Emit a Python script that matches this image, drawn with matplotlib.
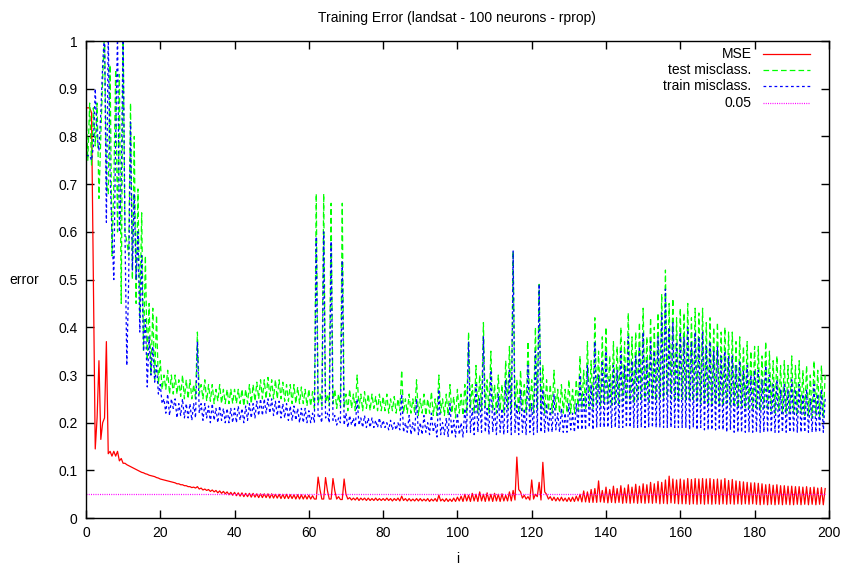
import numpy as np
import matplotlib
matplotlib.use("Agg")
import matplotlib.pyplot as plt
from matplotlib.ticker import FuncFormatter, MultipleLocator

plt.rcParams['font.family'] = ['Liberation Sans', 'DejaVu Sans']

# values: "hi" at i = 0,1,...,199 and "lo" at i = 0.5,1.5,...
mse_hi = [
    0.86, 0.86, 0.50, 0.21, 0.165, 0.21, 0.135, 0.13, 0.13, 0.12,
    0.115, 0.112, 0.108, 0.104, 0.10, 0.096, 0.093, 0.090, 0.088, 0.085,
    0.082, 0.080, 0.078, 0.076, 0.074, 0.072, 0.070, 0.068, 0.066, 0.065,
    0.066, 0.063, 0.061, 0.060, 0.059, 0.058, 0.057, 0.056, 0.055, 0.054,
    0.054, 0.053, 0.053, 0.052, 0.052, 0.052, 0.051, 0.051, 0.051, 0.051,
    0.051, 0.050, 0.050, 0.050, 0.050, 0.049, 0.049, 0.049, 0.049, 0.048,
    0.048, 0.047, 0.040, 0.060, 0.040, 0.058, 0.040, 0.057, 0.045, 0.039,
    0.050, 0.043, 0.042, 0.043, 0.042, 0.042, 0.042, 0.041, 0.042, 0.041,
    0.041, 0.042, 0.041, 0.041, 0.042, 0.046, 0.041, 0.041, 0.040, 0.041,
    0.041, 0.040, 0.041, 0.040, 0.041, 0.048, 0.040, 0.041, 0.040, 0.042,
    0.044, 0.046, 0.050, 0.048, 0.052, 0.050, 0.055, 0.050, 0.053, 0.050,
    0.052, 0.050, 0.051, 0.048, 0.055, 0.058, 0.128, 0.055, 0.048, 0.045,
    0.080, 0.050, 0.075, 0.117, 0.050, 0.045, 0.044, 0.043, 0.044, 0.042,
    0.043, 0.044, 0.046, 0.050, 0.057, 0.055, 0.060, 0.062, 0.078, 0.058,
    0.065, 0.060, 0.067, 0.062, 0.068, 0.063, 0.070, 0.065, 0.071, 0.067,
    0.072, 0.070, 0.075, 0.072, 0.077, 0.075, 0.080, 0.088, 0.082, 0.080,
    0.082, 0.080, 0.083, 0.081, 0.083, 0.082, 0.083, 0.082, 0.083, 0.081,
    0.082, 0.080, 0.083, 0.079, 0.081, 0.078, 0.077, 0.076, 0.075, 0.074,
    0.074, 0.073, 0.072, 0.070, 0.071, 0.069, 0.070, 0.068, 0.068, 0.067,
    0.067, 0.066, 0.066, 0.065, 0.066, 0.064, 0.065, 0.063, 0.064, 0.062,
]
mse_lo = [
    0.86, 0.85, 0.145, 0.33, 0.20, 0.37, 0.14, 0.14, 0.14, 0.125,
    0.115, 0.11, 0.106, 0.102, 0.098, 0.095, 0.092, 0.089, 0.087, 0.084,
    0.081, 0.079, 0.077, 0.075, 0.072, 0.070, 0.068, 0.066, 0.064, 0.063,
    0.061, 0.059, 0.058, 0.056, 0.055, 0.053, 0.052, 0.051, 0.049, 0.048,
    0.047, 0.046, 0.045, 0.045, 0.044, 0.044, 0.043, 0.043, 0.043, 0.042,
    0.042, 0.042, 0.041, 0.041, 0.041, 0.041, 0.040, 0.040, 0.040, 0.040,
    0.040, 0.040, 0.086, 0.040, 0.085, 0.040, 0.083, 0.040, 0.039, 0.082,
    0.040, 0.038, 0.038, 0.037, 0.038, 0.037, 0.037, 0.037, 0.037, 0.037,
    0.037, 0.037, 0.036, 0.037, 0.036, 0.037, 0.036, 0.036, 0.036, 0.036,
    0.036, 0.036, 0.035, 0.036, 0.035, 0.036, 0.035, 0.035, 0.035, 0.035,
    0.036, 0.035, 0.036, 0.035, 0.036, 0.035, 0.036, 0.035, 0.036, 0.035,
    0.036, 0.035, 0.036, 0.036, 0.036, 0.038, 0.060, 0.042, 0.040, 0.038,
    0.040, 0.045, 0.038, 0.055, 0.040, 0.037, 0.036, 0.036, 0.036, 0.035,
    0.035, 0.035, 0.036, 0.034, 0.034, 0.033, 0.033, 0.033, 0.034, 0.033,
    0.032, 0.033, 0.032, 0.033, 0.031, 0.032, 0.031, 0.032, 0.031, 0.032,
    0.031, 0.032, 0.031, 0.032, 0.030, 0.031, 0.030, 0.032, 0.031, 0.030,
    0.030, 0.030, 0.029, 0.030, 0.029, 0.030, 0.029, 0.030, 0.029, 0.030,
    0.029, 0.030, 0.029, 0.030, 0.029, 0.030, 0.029, 0.030, 0.029, 0.030,
    0.029, 0.028, 0.029, 0.028, 0.029, 0.028, 0.029, 0.028, 0.029, 0.028,
    0.028, 0.029, 0.028, 0.029, 0.028, 0.029, 0.028, 0.029, 0.028, 0.029,
]

test_hi = [
    0.86, 0.87, 0.86, 0.87, 0.80, 1.02, 0.68, 0.55, 0.94, 0.93,
    1.02, 0.58, 0.87, 0.80, 0.69, 0.64, 0.55, 0.45, 0.44, 0.425,
    0.33, 0.30, 0.31, 0.30, 0.30, 0.29, 0.30, 0.29, 0.29, 0.28,
    0.39, 0.28, 0.29, 0.28, 0.28, 0.27, 0.28, 0.27, 0.27, 0.27,
    0.27, 0.27, 0.27, 0.27, 0.28, 0.28, 0.285, 0.29, 0.29, 0.295,
    0.29, 0.29, 0.29, 0.285, 0.28, 0.28, 0.28, 0.275, 0.275, 0.27,
    0.27, 0.265, 0.68, 0.26, 0.68, 0.26, 0.66, 0.27, 0.26, 0.66,
    0.26, 0.27, 0.26, 0.30, 0.26, 0.265, 0.26, 0.26, 0.255, 0.26,
    0.255, 0.26, 0.25, 0.255, 0.25, 0.31, 0.25, 0.26, 0.25, 0.29,
    0.25, 0.26, 0.25, 0.265, 0.25, 0.30, 0.25, 0.26, 0.28, 0.255,
    0.27, 0.26, 0.28, 0.39, 0.28, 0.32, 0.30, 0.41, 0.29, 0.35,
    0.28, 0.30, 0.28, 0.33, 0.36, 0.56, 0.29, 0.31, 0.28, 0.37,
    0.29, 0.40, 0.49, 0.32, 0.29, 0.28, 0.31, 0.27, 0.28, 0.27,
    0.29, 0.27, 0.29, 0.34, 0.31, 0.37, 0.33, 0.42, 0.35, 0.38,
    0.40, 0.34, 0.37, 0.36, 0.40, 0.37, 0.43, 0.38, 0.39, 0.41,
    0.44, 0.38, 0.42, 0.40, 0.43, 0.47, 0.52, 0.45, 0.46, 0.42,
    0.44, 0.43, 0.45, 0.42, 0.44, 0.43, 0.44, 0.41, 0.42, 0.40,
    0.41, 0.39, 0.40, 0.39, 0.39, 0.37, 0.38, 0.36, 0.37, 0.35,
    0.36, 0.36, 0.34, 0.37, 0.35, 0.33, 0.34, 0.32, 0.33, 0.32,
    0.34, 0.32, 0.33, 0.31, 0.32, 0.30, 0.33, 0.31, 0.32, 0.30,
]
test_lo = [
    0.75, 0.74, 0.78, 0.67, 0.92, 0.70, 0.95, 0.70, 0.60, 0.45,
    0.60, 0.55, 0.50, 0.45, 0.42, 0.35, 0.33, 0.30, 0.29, 0.28,
    0.27, 0.27, 0.26, 0.26, 0.26, 0.255, 0.25, 0.25, 0.25, 0.25,
    0.26, 0.25, 0.245, 0.245, 0.24, 0.245, 0.24, 0.24, 0.24, 0.24,
    0.24, 0.24, 0.235, 0.24, 0.24, 0.245, 0.25, 0.25, 0.25, 0.255,
    0.25, 0.25, 0.25, 0.245, 0.245, 0.24, 0.24, 0.24, 0.24, 0.235,
    0.235, 0.23, 0.24, 0.235, 0.24, 0.235, 0.24, 0.23, 0.235, 0.23,
    0.225, 0.23, 0.225, 0.23, 0.225, 0.23, 0.225, 0.23, 0.225, 0.225,
    0.225, 0.22, 0.225, 0.22, 0.225, 0.22, 0.22, 0.22, 0.22, 0.215,
    0.22, 0.215, 0.22, 0.215, 0.215, 0.22, 0.215, 0.215, 0.22, 0.21,
    0.22, 0.215, 0.22, 0.23, 0.22, 0.22, 0.225, 0.23, 0.22, 0.225,
    0.22, 0.225, 0.22, 0.23, 0.22, 0.23, 0.22, 0.225, 0.22, 0.225,
    0.22, 0.23, 0.225, 0.22, 0.225, 0.22, 0.225, 0.22, 0.22, 0.22,
    0.22, 0.22, 0.225, 0.23, 0.23, 0.235, 0.23, 0.24, 0.235, 0.24,
    0.24, 0.235, 0.24, 0.24, 0.245, 0.24, 0.245, 0.24, 0.245, 0.245,
    0.25, 0.245, 0.25, 0.245, 0.25, 0.25, 0.255, 0.25, 0.25, 0.245,
    0.25, 0.245, 0.25, 0.245, 0.245, 0.24, 0.245, 0.24, 0.24, 0.24,
    0.24, 0.235, 0.24, 0.235, 0.235, 0.23, 0.235, 0.23, 0.23, 0.23,
    0.23, 0.225, 0.23, 0.225, 0.225, 0.22, 0.225, 0.22, 0.22, 0.22,
    0.22, 0.215, 0.22, 0.215, 0.215, 0.21, 0.215, 0.21, 0.21, 0.21,
]

train_hi = [
    0.76, 0.76, 0.78, 0.80, 0.85, 1.02, 1.02, 0.60, 0.80, 0.60,
    1.02, 0.32, 0.83, 0.68, 0.60, 0.55, 0.42, 0.38, 0.36, 0.32,
    0.28, 0.25, 0.26, 0.25, 0.25, 0.24, 0.25, 0.24, 0.24, 0.24,
    0.37, 0.24, 0.24, 0.235, 0.24, 0.23, 0.235, 0.23, 0.23, 0.23,
    0.23, 0.235, 0.23, 0.235, 0.24, 0.24, 0.245, 0.25, 0.25, 0.25,
    0.25, 0.245, 0.245, 0.24, 0.24, 0.235, 0.235, 0.23, 0.23, 0.23,
    0.225, 0.22, 0.59, 0.215, 0.60, 0.22, 0.58, 0.215, 0.21, 0.54,
    0.22, 0.215, 0.21, 0.25, 0.21, 0.215, 0.21, 0.21, 0.205, 0.21,
    0.205, 0.20, 0.205, 0.20, 0.20, 0.26, 0.20, 0.215, 0.20, 0.25,
    0.20, 0.215, 0.20, 0.22, 0.20, 0.27, 0.20, 0.21, 0.24, 0.205,
    0.22, 0.20, 0.23, 0.37, 0.23, 0.28, 0.25, 0.38, 0.23, 0.31,
    0.23, 0.26, 0.23, 0.29, 0.31, 0.56, 0.24, 0.27, 0.23, 0.32,
    0.24, 0.35, 0.49, 0.27, 0.24, 0.23, 0.26, 0.22, 0.23, 0.22,
    0.24, 0.22, 0.24, 0.30, 0.26, 0.32, 0.28, 0.37, 0.30, 0.33,
    0.35, 0.29, 0.32, 0.31, 0.35, 0.32, 0.38, 0.33, 0.34, 0.36,
    0.39, 0.33, 0.37, 0.35, 0.38, 0.43, 0.48, 0.40, 0.41, 0.37,
    0.39, 0.38, 0.40, 0.37, 0.39, 0.38, 0.39, 0.36, 0.37, 0.35,
    0.36, 0.34, 0.35, 0.34, 0.34, 0.32, 0.33, 0.31, 0.32, 0.30,
    0.31, 0.31, 0.29, 0.32, 0.30, 0.28, 0.29, 0.27, 0.28, 0.27,
    0.29, 0.27, 0.28, 0.26, 0.27, 0.25, 0.28, 0.26, 0.27, 0.25,
]
train_lo = [
    0.76, 0.75, 0.90, 0.77, 0.95, 0.62, 0.72, 0.50, 1.02, 0.70,
    0.60, 0.50, 0.52, 0.50, 0.39, 0.35, 0.275, 0.30, 0.285, 0.26,
    0.24, 0.22, 0.215, 0.23, 0.21, 0.215, 0.21, 0.21, 0.205, 0.21,
    0.22, 0.205, 0.21, 0.20, 0.205, 0.20, 0.205, 0.20, 0.20, 0.20,
    0.20, 0.205, 0.20, 0.205, 0.21, 0.21, 0.215, 0.215, 0.22, 0.22,
    0.215, 0.215, 0.21, 0.21, 0.205, 0.205, 0.205, 0.20, 0.20, 0.20,
    0.20, 0.20, 0.21, 0.20, 0.21, 0.20, 0.205, 0.195, 0.20, 0.195,
    0.19, 0.195, 0.19, 0.195, 0.19, 0.19, 0.19, 0.19, 0.19, 0.19,
    0.19, 0.185, 0.185, 0.185, 0.185, 0.18, 0.18, 0.175, 0.18, 0.175,
    0.175, 0.18, 0.175, 0.18, 0.17, 0.175, 0.175, 0.17, 0.175, 0.17,
    0.175, 0.17, 0.18, 0.18, 0.175, 0.18, 0.18, 0.18, 0.175, 0.18,
    0.175, 0.18, 0.175, 0.18, 0.175, 0.18, 0.175, 0.18, 0.175, 0.18,
    0.175, 0.18, 0.18, 0.18, 0.18, 0.18, 0.185, 0.18, 0.18, 0.18,
    0.185, 0.18, 0.185, 0.185, 0.185, 0.19, 0.185, 0.19, 0.19, 0.19,
    0.19, 0.19, 0.19, 0.19, 0.19, 0.19, 0.19, 0.19, 0.19, 0.19,
    0.19, 0.19, 0.19, 0.19, 0.19, 0.19, 0.19, 0.19, 0.19, 0.19,
    0.19, 0.19, 0.185, 0.19, 0.185, 0.19, 0.185, 0.185, 0.185, 0.185,
    0.185, 0.185, 0.18, 0.185, 0.18, 0.18, 0.18, 0.18, 0.18, 0.18,
    0.18, 0.18, 0.18, 0.18, 0.18, 0.18, 0.18, 0.18, 0.18, 0.18,
    0.18, 0.18, 0.18, 0.18, 0.18, 0.18, 0.18, 0.18, 0.18, 0.18,
]

threshold = 0.05
labels = ['MSE', 'test misclass.', 'train misclass.', '0.05']
colors = ['#ff0000', '#00ff00', '#0000ff', '#ff00ff']
dash_styles = [None, (4.5, 2.5), (2.2, 2.2), (0.8, 1.0)]


def interleave(hi, lo):
    out = np.empty(len(hi) + len(lo))
    out[0::2] = hi
    out[1::2] = lo
    return out[:-1]


mse = interleave(mse_hi, mse_lo)
test = interleave(test_hi, test_lo)
train = interleave(train_hi, train_lo)
i = np.arange(len(mse)) * 0.5
series = [mse, test, train, np.full(len(i), threshold)]

fig = plt.figure(figsize=(8.51, 5.70), dpi=100)
ax = fig.add_axes([0.101, 0.091, 0.873, 0.837])

lw = 0.9
for y, c, d in zip(series, colors, dash_styles):
    kw = {} if d is None else {'dashes': d}
    ax.plot(i, y, color=c, lw=lw, **kw)

ax.set_xlim(0, 200)
ax.set_ylim(0, 1)
ax.xaxis.set_major_locator(MultipleLocator(20))
ax.yaxis.set_major_locator(MultipleLocator(0.1))
ax.yaxis.set_major_formatter(FuncFormatter(lambda v, p: '%g' % round(v, 2)))
ax.tick_params(direction='in', top=True, right=True, length=6, width=1,
               labelsize=10, pad=6)
for s in ax.spines.values():
    s.set_linewidth(1.0)

ax.set_title('Training Error (landsat - 100 neurons - rprop)', fontsize=10, pad=14)
ax.set_xlabel('i', fontsize=10, labelpad=8)
ax.set_ylabel('error', fontsize=10, rotation=0, ha='center', va='center')
ax.yaxis.set_label_coords(-0.083, 0.5)

# legend, text right-aligned left of the sample line (gnuplot style)
ys = [0.973, 0.939, 0.905, 0.871]
for lab, c, d, y in zip(labels, colors, dash_styles, ys):
    ax.text(0.896, y, lab, transform=ax.transAxes, ha='right', va='center', fontsize=10)
    kw = {} if d is None else {'dashes': d}
    ax.plot([0.911, 0.974], [y, y], transform=ax.transAxes, color=c, lw=lw, **kw)

fig.savefig('out.png', dpi=100)
